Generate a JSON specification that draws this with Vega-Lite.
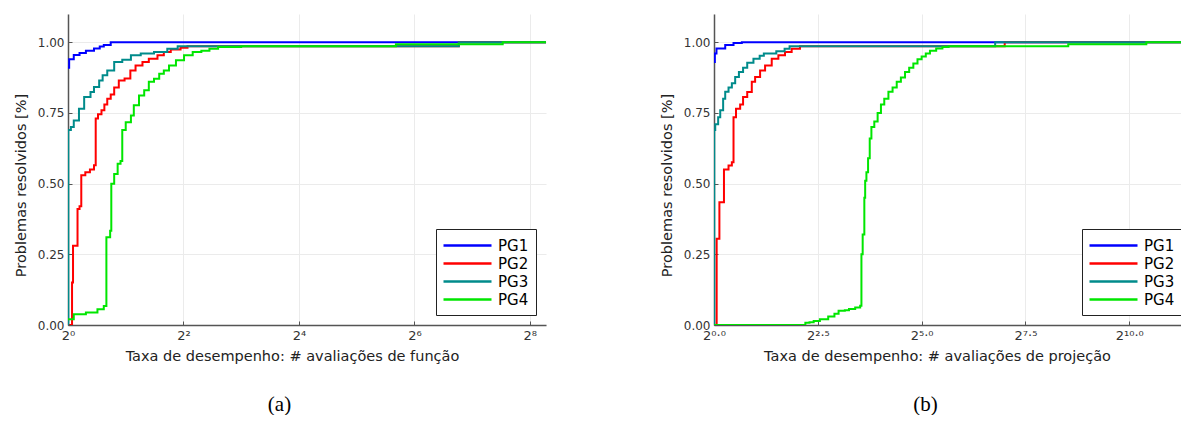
{
  "$schema": "https://vega.github.io/schema/vega-lite/v6.json",
  "padding": {"left": 13, "top": 14, "right": -9, "bottom": 0},
  "background": "white",
  "config": {
    "view": {"stroke": null},
    "font": "DejaVu Sans",
    "axis": {
      "labelFont": "DejaVu Sans", "labelFontSize": 12, "labelColor": "#333",
      "titleFont": "DejaVu Sans", "titleFontSize": 14.5, "titleFontWeight": "normal", "titleColor": "#222",
      "gridColor": "#ebebeb", "gridWidth": 1,
      "domainColor": "#555", "domainWidth": 1.5,
      "tickColor": "#555", "tickSize": -4, "tickWidth": 1, "labelPadding": 8,
      "labelFlush": false, "labelOverlap": false
    }
  },
  "resolve": {"legend": {"color": "independent"}},
  "spacing": 113,
  "hconcat": [
    {
      "width": 478, "height": 311,
      "title": {"text": "(a)", "orient": "bottom", "anchor": "middle", "frame": "bounds", "offset": 31, "font": "Liberation Serif", "fontSize": 21, "fontWeight": "normal", "color": "#000"},
      "data": {"values": [
        {"solver": "PG1", "log2_taxa": 0, "resolvidos": 0.91},
        {"solver": "PG1", "log2_taxa": 0.02, "resolvidos": 0.94},
        {"solver": "PG1", "log2_taxa": 0.1, "resolvidos": 0.955},
        {"solver": "PG1", "log2_taxa": 0.2, "resolvidos": 0.962},
        {"solver": "PG1", "log2_taxa": 0.31, "resolvidos": 0.97},
        {"solver": "PG1", "log2_taxa": 0.45, "resolvidos": 0.978},
        {"solver": "PG1", "log2_taxa": 0.55, "resolvidos": 0.985},
        {"solver": "PG1", "log2_taxa": 0.62, "resolvidos": 0.99},
        {"solver": "PG1", "log2_taxa": 0.74, "resolvidos": 1.0},
        {"solver": "PG1", "log2_taxa": 8.28, "resolvidos": 1.0},
        {"solver": "PG2", "log2_taxa": 0, "resolvidos": 0},
        {"solver": "PG2", "log2_taxa": 0.07, "resolvidos": 0.15},
        {"solver": "PG2", "log2_taxa": 0.087, "resolvidos": 0.28},
        {"solver": "PG2", "log2_taxa": 0.165, "resolvidos": 0.41},
        {"solver": "PG2", "log2_taxa": 0.2, "resolvidos": 0.42},
        {"solver": "PG2", "log2_taxa": 0.23, "resolvidos": 0.53},
        {"solver": "PG2", "log2_taxa": 0.3, "resolvidos": 0.54},
        {"solver": "PG2", "log2_taxa": 0.38, "resolvidos": 0.55},
        {"solver": "PG2", "log2_taxa": 0.45, "resolvidos": 0.565},
        {"solver": "PG2", "log2_taxa": 0.48, "resolvidos": 0.73},
        {"solver": "PG2", "log2_taxa": 0.52, "resolvidos": 0.745},
        {"solver": "PG2", "log2_taxa": 0.58, "resolvidos": 0.76},
        {"solver": "PG2", "log2_taxa": 0.63, "resolvidos": 0.78},
        {"solver": "PG2", "log2_taxa": 0.68, "resolvidos": 0.8},
        {"solver": "PG2", "log2_taxa": 0.74, "resolvidos": 0.815},
        {"solver": "PG2", "log2_taxa": 0.8, "resolvidos": 0.84},
        {"solver": "PG2", "log2_taxa": 0.88, "resolvidos": 0.865},
        {"solver": "PG2", "log2_taxa": 0.98, "resolvidos": 0.872},
        {"solver": "PG2", "log2_taxa": 1.08, "resolvidos": 0.9},
        {"solver": "PG2", "log2_taxa": 1.17, "resolvidos": 0.918},
        {"solver": "PG2", "log2_taxa": 1.29, "resolvidos": 0.93},
        {"solver": "PG2", "log2_taxa": 1.4, "resolvidos": 0.942},
        {"solver": "PG2", "log2_taxa": 1.55, "resolvidos": 0.954},
        {"solver": "PG2", "log2_taxa": 1.66, "resolvidos": 0.966},
        {"solver": "PG2", "log2_taxa": 1.78, "resolvidos": 0.974},
        {"solver": "PG2", "log2_taxa": 1.95, "resolvidos": 0.981},
        {"solver": "PG2", "log2_taxa": 2.07, "resolvidos": 0.986},
        {"solver": "PG2", "log2_taxa": 6.77, "resolvidos": 1.0},
        {"solver": "PG2", "log2_taxa": 8.28, "resolvidos": 1.0},
        {"solver": "PG3", "log2_taxa": 0, "resolvidos": 0},
        {"solver": "PG3", "log2_taxa": 0.005, "resolvidos": 0.69},
        {"solver": "PG3", "log2_taxa": 0.05, "resolvidos": 0.7},
        {"solver": "PG3", "log2_taxa": 0.1, "resolvidos": 0.723},
        {"solver": "PG3", "log2_taxa": 0.19, "resolvidos": 0.765},
        {"solver": "PG3", "log2_taxa": 0.28, "resolvidos": 0.806},
        {"solver": "PG3", "log2_taxa": 0.39, "resolvidos": 0.824},
        {"solver": "PG3", "log2_taxa": 0.45, "resolvidos": 0.842},
        {"solver": "PG3", "log2_taxa": 0.54, "resolvidos": 0.865},
        {"solver": "PG3", "log2_taxa": 0.6, "resolvidos": 0.883},
        {"solver": "PG3", "log2_taxa": 0.68, "resolvidos": 0.9},
        {"solver": "PG3", "log2_taxa": 0.8, "resolvidos": 0.93},
        {"solver": "PG3", "log2_taxa": 0.94, "resolvidos": 0.938},
        {"solver": "PG3", "log2_taxa": 1.09, "resolvidos": 0.954},
        {"solver": "PG3", "log2_taxa": 1.26, "resolvidos": 0.96},
        {"solver": "PG3", "log2_taxa": 1.49, "resolvidos": 0.966},
        {"solver": "PG3", "log2_taxa": 1.72, "resolvidos": 0.977},
        {"solver": "PG3", "log2_taxa": 1.9, "resolvidos": 0.986},
        {"solver": "PG3", "log2_taxa": 6.77, "resolvidos": 1.0},
        {"solver": "PG3", "log2_taxa": 8.28, "resolvidos": 1.0},
        {"solver": "PG4", "log2_taxa": 0, "resolvidos": 0.02},
        {"solver": "PG4", "log2_taxa": 0.1, "resolvidos": 0.038},
        {"solver": "PG4", "log2_taxa": 0.31, "resolvidos": 0.044},
        {"solver": "PG4", "log2_taxa": 0.51, "resolvidos": 0.056},
        {"solver": "PG4", "log2_taxa": 0.62, "resolvidos": 0.067},
        {"solver": "PG4", "log2_taxa": 0.665, "resolvidos": 0.31},
        {"solver": "PG4", "log2_taxa": 0.73, "resolvidos": 0.333},
        {"solver": "PG4", "log2_taxa": 0.75, "resolvidos": 0.5},
        {"solver": "PG4", "log2_taxa": 0.8, "resolvidos": 0.534},
        {"solver": "PG4", "log2_taxa": 0.86, "resolvidos": 0.57},
        {"solver": "PG4", "log2_taxa": 0.91, "resolvidos": 0.58},
        {"solver": "PG4", "log2_taxa": 0.94, "resolvidos": 0.69},
        {"solver": "PG4", "log2_taxa": 1.0, "resolvidos": 0.717},
        {"solver": "PG4", "log2_taxa": 1.09, "resolvidos": 0.741},
        {"solver": "PG4", "log2_taxa": 1.14, "resolvidos": 0.777},
        {"solver": "PG4", "log2_taxa": 1.23, "resolvidos": 0.812},
        {"solver": "PG4", "log2_taxa": 1.32, "resolvidos": 0.83},
        {"solver": "PG4", "log2_taxa": 1.4, "resolvidos": 0.86},
        {"solver": "PG4", "log2_taxa": 1.49, "resolvidos": 0.871},
        {"solver": "PG4", "log2_taxa": 1.58, "resolvidos": 0.889},
        {"solver": "PG4", "log2_taxa": 1.66, "resolvidos": 0.9},
        {"solver": "PG4", "log2_taxa": 1.75, "resolvidos": 0.918},
        {"solver": "PG4", "log2_taxa": 1.87, "resolvidos": 0.936},
        {"solver": "PG4", "log2_taxa": 2.01, "resolvidos": 0.954},
        {"solver": "PG4", "log2_taxa": 2.16, "resolvidos": 0.966},
        {"solver": "PG4", "log2_taxa": 2.31, "resolvidos": 0.97},
        {"solver": "PG4", "log2_taxa": 2.45, "resolvidos": 0.977},
        {"solver": "PG4", "log2_taxa": 2.6, "resolvidos": 0.983},
        {"solver": "PG4", "log2_taxa": 3.0, "resolvidos": 0.986},
        {"solver": "PG4", "log2_taxa": 5.68, "resolvidos": 0.993},
        {"solver": "PG4", "log2_taxa": 7.53, "resolvidos": 1.0},
        {"solver": "PG4", "log2_taxa": 8.28, "resolvidos": 1.0}
      ]},
      "mark": {"type": "line", "interpolate": "step-after", "strokeWidth": 2, "clip": true},
      "encoding": {
        "x": {"field": "log2_taxa", "type": "quantitative",
          "scale": {"domain": [0, 8.28], "nice": false, "zero": false},
          "axis": {"title": "Taxa de desempenho: # avaliações de função", "values": [0, 2, 4, 6, 8], "labelFontSize": 13,
            "labelExpr": "'2' + (datum.value == 0 ? '⁰' : datum.value == 2 ? '²' : datum.value == 4 ? '⁴' : datum.value == 6 ? '⁶' : '⁸')",
            "titleX": 224, "titlePadding": 6, "minExtent": 18, "maxExtent": 18}},
        "y": {"field": "resolvidos", "type": "quantitative",
          "scale": {"domain": [0, 1.1], "nice": false},
          "axis": {"title": "Problemas resolvidos [%]", "values": [0, 0.25, 0.5, 0.75, 1], "format": ".2f",
            "titleY": 171, "minExtent": 40, "maxExtent": 40, "titlePadding": 0}},
        "color": {"field": "solver", "type": "nominal",
          "scale": {"domain": ["PG1", "PG2", "PG3", "PG4"], "range": ["#0000ff", "#ff0000", "#008b8b", "#00e600"]},
          "legend": {"title": null, "orient": "bottom-right", "offset": 10, "symbolType": "M-3,0L3,0", "symbolSize": 256, "symbolOffset": 15, "symbolStrokeWidth": 2.5, "labelOffset": 21, "labelFontSize": 15, "labelFont": "DejaVu Sans", "labelColor": "#000", "padding": 7, "rowPadding": 0, "strokeColor": "#222", "fillColor": "#ffffff"}}
      }
    },
    {
      "width": 478, "height": 311,
      "title": {"text": "(b)", "orient": "bottom", "anchor": "middle", "frame": "bounds", "offset": 31, "font": "Liberation Serif", "fontSize": 21, "fontWeight": "normal", "color": "#000"},
      "data": {"values": [
        {"solver": "PG1", "log2_taxa": 0, "resolvidos": 0.93},
        {"solver": "PG1", "log2_taxa": 0.02, "resolvidos": 0.96},
        {"solver": "PG1", "log2_taxa": 0.06, "resolvidos": 0.978},
        {"solver": "PG1", "log2_taxa": 0.27, "resolvidos": 0.99},
        {"solver": "PG1", "log2_taxa": 0.47, "resolvidos": 0.997},
        {"solver": "PG1", "log2_taxa": 0.67, "resolvidos": 1.0},
        {"solver": "PG1", "log2_taxa": 11.51, "resolvidos": 1.0},
        {"solver": "PG2", "log2_taxa": 0, "resolvidos": 0},
        {"solver": "PG2", "log2_taxa": 0.064, "resolvidos": 0.305},
        {"solver": "PG2", "log2_taxa": 0.13, "resolvidos": 0.434},
        {"solver": "PG2", "log2_taxa": 0.24, "resolvidos": 0.55},
        {"solver": "PG2", "log2_taxa": 0.35, "resolvidos": 0.564},
        {"solver": "PG2", "log2_taxa": 0.43, "resolvidos": 0.576},
        {"solver": "PG2", "log2_taxa": 0.47, "resolvidos": 0.735},
        {"solver": "PG2", "log2_taxa": 0.53, "resolvidos": 0.765},
        {"solver": "PG2", "log2_taxa": 0.63, "resolvidos": 0.78},
        {"solver": "PG2", "log2_taxa": 0.7, "resolvidos": 0.806},
        {"solver": "PG2", "log2_taxa": 0.8, "resolvidos": 0.824},
        {"solver": "PG2", "log2_taxa": 0.91, "resolvidos": 0.86},
        {"solver": "PG2", "log2_taxa": 0.99, "resolvidos": 0.877},
        {"solver": "PG2", "log2_taxa": 1.11, "resolvidos": 0.9},
        {"solver": "PG2", "log2_taxa": 1.23, "resolvidos": 0.918},
        {"solver": "PG2", "log2_taxa": 1.39, "resolvidos": 0.942},
        {"solver": "PG2", "log2_taxa": 1.55, "resolvidos": 0.954},
        {"solver": "PG2", "log2_taxa": 1.71, "resolvidos": 0.966},
        {"solver": "PG2", "log2_taxa": 1.87, "resolvidos": 0.977},
        {"solver": "PG2", "log2_taxa": 2.07, "resolvidos": 0.986},
        {"solver": "PG2", "log2_taxa": 7.0, "resolvidos": 1.0},
        {"solver": "PG2", "log2_taxa": 11.51, "resolvidos": 1.0},
        {"solver": "PG3", "log2_taxa": 0, "resolvidos": 0},
        {"solver": "PG3", "log2_taxa": 0.005, "resolvidos": 0.69},
        {"solver": "PG3", "log2_taxa": 0.03, "resolvidos": 0.71},
        {"solver": "PG3", "log2_taxa": 0.1, "resolvidos": 0.735},
        {"solver": "PG3", "log2_taxa": 0.15, "resolvidos": 0.76},
        {"solver": "PG3", "log2_taxa": 0.22, "resolvidos": 0.8},
        {"solver": "PG3", "log2_taxa": 0.27, "resolvidos": 0.825},
        {"solver": "PG3", "log2_taxa": 0.35, "resolvidos": 0.84},
        {"solver": "PG3", "log2_taxa": 0.43, "resolvidos": 0.855},
        {"solver": "PG3", "log2_taxa": 0.51, "resolvidos": 0.877},
        {"solver": "PG3", "log2_taxa": 0.6, "resolvidos": 0.895},
        {"solver": "PG3", "log2_taxa": 0.7, "resolvidos": 0.91},
        {"solver": "PG3", "log2_taxa": 0.8, "resolvidos": 0.928},
        {"solver": "PG3", "log2_taxa": 0.95, "resolvidos": 0.942},
        {"solver": "PG3", "log2_taxa": 1.1, "resolvidos": 0.952},
        {"solver": "PG3", "log2_taxa": 1.2, "resolvidos": 0.96},
        {"solver": "PG3", "log2_taxa": 1.5, "resolvidos": 0.968},
        {"solver": "PG3", "log2_taxa": 1.7, "resolvidos": 0.977},
        {"solver": "PG3", "log2_taxa": 1.82, "resolvidos": 0.986},
        {"solver": "PG3", "log2_taxa": 6.77, "resolvidos": 1.0},
        {"solver": "PG3", "log2_taxa": 11.51, "resolvidos": 1.0},
        {"solver": "PG4", "log2_taxa": 0, "resolvidos": 0},
        {"solver": "PG4", "log2_taxa": 2.2, "resolvidos": 0.008},
        {"solver": "PG4", "log2_taxa": 2.3, "resolvidos": 0.01},
        {"solver": "PG4", "log2_taxa": 2.4, "resolvidos": 0.014},
        {"solver": "PG4", "log2_taxa": 2.55, "resolvidos": 0.02},
        {"solver": "PG4", "log2_taxa": 2.75, "resolvidos": 0.03},
        {"solver": "PG4", "log2_taxa": 2.9, "resolvidos": 0.04},
        {"solver": "PG4", "log2_taxa": 3.0, "resolvidos": 0.05},
        {"solver": "PG4", "log2_taxa": 3.15, "resolvidos": 0.052},
        {"solver": "PG4", "log2_taxa": 3.25, "resolvidos": 0.057},
        {"solver": "PG4", "log2_taxa": 3.4, "resolvidos": 0.062},
        {"solver": "PG4", "log2_taxa": 3.52, "resolvidos": 0.068},
        {"solver": "PG4", "log2_taxa": 3.55, "resolvidos": 0.25},
        {"solver": "PG4", "log2_taxa": 3.58, "resolvidos": 0.32},
        {"solver": "PG4", "log2_taxa": 3.62, "resolvidos": 0.45},
        {"solver": "PG4", "log2_taxa": 3.64, "resolvidos": 0.51},
        {"solver": "PG4", "log2_taxa": 3.67, "resolvidos": 0.54},
        {"solver": "PG4", "log2_taxa": 3.71, "resolvidos": 0.59},
        {"solver": "PG4", "log2_taxa": 3.75, "resolvidos": 0.66},
        {"solver": "PG4", "log2_taxa": 3.79, "resolvidos": 0.7},
        {"solver": "PG4", "log2_taxa": 3.86, "resolvidos": 0.72},
        {"solver": "PG4", "log2_taxa": 3.94, "resolvidos": 0.75},
        {"solver": "PG4", "log2_taxa": 4.02, "resolvidos": 0.78},
        {"solver": "PG4", "log2_taxa": 4.1, "resolvidos": 0.8},
        {"solver": "PG4", "log2_taxa": 4.2, "resolvidos": 0.825},
        {"solver": "PG4", "log2_taxa": 4.3, "resolvidos": 0.84},
        {"solver": "PG4", "log2_taxa": 4.4, "resolvidos": 0.86},
        {"solver": "PG4", "log2_taxa": 4.5, "resolvidos": 0.875},
        {"solver": "PG4", "log2_taxa": 4.6, "resolvidos": 0.895},
        {"solver": "PG4", "log2_taxa": 4.7, "resolvidos": 0.91},
        {"solver": "PG4", "log2_taxa": 4.8, "resolvidos": 0.925},
        {"solver": "PG4", "log2_taxa": 4.9, "resolvidos": 0.94},
        {"solver": "PG4", "log2_taxa": 5.0, "resolvidos": 0.95},
        {"solver": "PG4", "log2_taxa": 5.1, "resolvidos": 0.96},
        {"solver": "PG4", "log2_taxa": 5.2, "resolvidos": 0.97},
        {"solver": "PG4", "log2_taxa": 5.35, "resolvidos": 0.978},
        {"solver": "PG4", "log2_taxa": 5.5, "resolvidos": 0.983},
        {"solver": "PG4", "log2_taxa": 5.65, "resolvidos": 0.986},
        {"solver": "PG4", "log2_taxa": 8.53, "resolvidos": 0.993},
        {"solver": "PG4", "log2_taxa": 10.41, "resolvidos": 1.0},
        {"solver": "PG4", "log2_taxa": 11.51, "resolvidos": 1.0}
      ]},
      "mark": {"type": "line", "interpolate": "step-after", "strokeWidth": 2, "clip": true},
      "encoding": {
        "x": {"field": "log2_taxa", "type": "quantitative",
          "scale": {"domain": [0, 11.51], "nice": false, "zero": false},
          "axis": {"title": "Taxa de desempenho: # avaliações de projeção", "values": [0, 2.5, 5, 7.5, 10], "labelFontSize": 13,
            "labelExpr": "datum.value == 0 ? '2⁰·⁰' : datum.value == 2.5 ? '2²·⁵' : datum.value == 5 ? '2⁵·⁰' : datum.value == 7.5 ? '2⁷·⁵' : '2¹⁰·⁰'",
            "titleX": 223, "titlePadding": 6, "minExtent": 18, "maxExtent": 18}},
        "y": {"field": "resolvidos", "type": "quantitative",
          "scale": {"domain": [0, 1.1], "nice": false},
          "axis": {"title": "Problemas resolvidos [%]", "values": [0, 0.25, 0.5, 0.75, 1], "format": ".2f",
            "titleY": 171, "minExtent": 40, "maxExtent": 40, "titlePadding": 0}},
        "color": {"field": "solver", "type": "nominal",
          "scale": {"domain": ["PG1", "PG2", "PG3", "PG4"], "range": ["#0000ff", "#ff0000", "#008b8b", "#00e600"]},
          "legend": {"title": null, "orient": "bottom-right", "offset": 10, "symbolType": "M-3,0L3,0", "symbolSize": 256, "symbolOffset": 15, "symbolStrokeWidth": 2.5, "labelOffset": 21, "labelFontSize": 15, "labelFont": "DejaVu Sans", "labelColor": "#000", "padding": 7, "rowPadding": 0, "strokeColor": "#222", "fillColor": "#ffffff"}}
      }
    }
  ]
}
